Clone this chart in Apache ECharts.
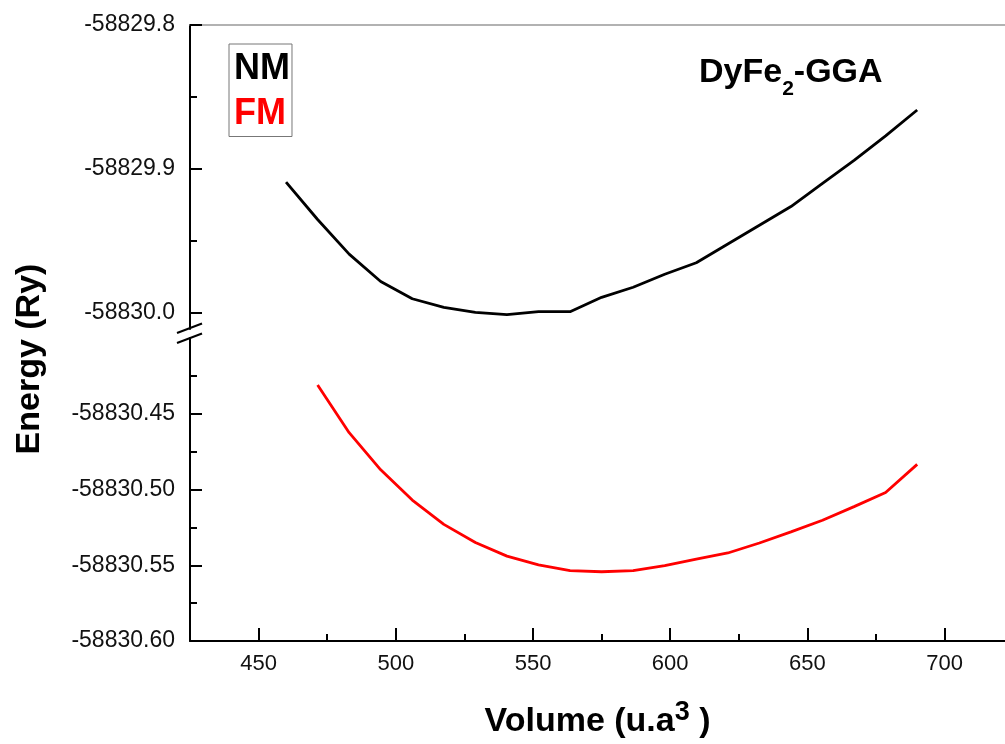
<!DOCTYPE html>
<html><head><meta charset="utf-8">
<script src="https://cdn.jsdelivr.net/npm/echarts@6/dist/echarts.min.js"></script>
<style>html,body{margin:0;padding:0;background:#fff}#c{width:1005px;height:744px}</style>
</head><body><div id="c"></div>
<script>
// ---- data ----
const volumesNM = [460, 471.5, 483, 494.5, 506, 517.5, 529, 540.5, 552, 563.5, 575, 586.5, 598, 609.5, 621, 632.5, 644, 655.5, 667, 678.5, 690];
const energyNM = [-58829.909, -58829.935, -58829.959, -58829.978, -58829.990, -58829.996, -58829.9995, -58830.001, -58829.999, -58829.999, -58829.989, -58829.982, -58829.973, -58829.965, -58829.952, -58829.939, -58829.926, -58829.910, -58829.894, -58829.877, -58829.859];
const volumesFM = [471.5, 483, 494.5, 506, 517.5, 529, 540.5, 552, 563.5, 575, 586.5, 598, 609.5, 621, 632.5, 644, 655.5, 667, 678.5, 690];
const energyFM = [-58830.431, -58830.4625, -58830.487, -58830.507, -58830.523, -58830.535, -58830.544, -58830.5497, -58830.5536, -58830.5543, -58830.5536, -58830.5503, -58830.546, -58830.5419, -58830.5353, -58830.528, -58830.5203, -58830.5113, -58830.502, -58830.4834];
const seriesNames = ['NM', 'FM'];
const xTickLabels = [450, 500, 550, 600, 650, 700];
const xMinorTicks = [475, 525, 575, 625, 675];
const yTopTickLabels = [-58830.0, -58829.9, -58829.8];
const yTopMinorTicks = [-58829.95, -58829.85];
const yBottomTickLabels = [-58830.60, -58830.55, -58830.50, -58830.45];
const yBottomMinorTicks = [-58830.575, -58830.525, -58830.475, -58830.425];
const xRange = [425, 722];
const yTopRange = [-58830.011, -58829.8];
const yBottomRange = [-58830.60, -58830.40];

// ---- chart ----
const FONT = 'Liberation Sans, Arial, Helvetica, sans-serif';
const chart = echarts.init(document.getElementById('c'), null, {renderer: 'canvas'});
const axisLine = {show: true, lineStyle: {color: '#000', width: 2}};
const labelStyle = {color: '#111', fontFamily: FONT, fontSize: 23};

function pairs(xs, ys) { return xs.map((x, i) => [x, ys[i]]); }

const option = {
  animation: false,
  backgroundColor: '#fff',
  title: {
    text: '{a|DyFe}{s|2}{a|-GGA}',
    left: 694, top: 51, padding: 5,
    textStyle: {
      rich: {
        a: {fontFamily: FONT, fontWeight: 'bold', fontSize: 34, color: '#000', lineHeight: 34, verticalAlign: 'top'},
        s: {fontFamily: FONT, fontWeight: 'bold', fontSize: 21, color: '#000', lineHeight: 21, verticalAlign: 'top', padding: [23, 0, 0, 0]}
      }
    }
  },
  legend: {
    orient: 'vertical', left: 229, top: 44,
    padding: [7, 2, 4, 0],
    itemWidth: 0, itemHeight: 36, itemGap: 9.5,
    borderColor: '#777', borderWidth: 1,
    icon: 'none',
    selectedMode: false,
    textStyle: {fontFamily: FONT, fontWeight: 'bold', fontSize: 36},
    data: [
      {name: seriesNames[0], textStyle: {color: '#000', fontFamily: FONT, fontWeight: 'bold', fontSize: 36}},
      {name: seriesNames[1], textStyle: {color: '#ff0000', fontFamily: FONT, fontWeight: 'bold', fontSize: 36}}
    ]
  },
  grid: [
    {left: 190, right: 0, top: 25, height: 304},
    {left: 190, right: 0, top: 338, height: 303}
  ],
  xAxis: [
    {gridIndex: 0, type: 'value', position: 'top', min: xRange[0], max: xRange[1],
      axisLine: {show: true, lineStyle: {color: '#999', width: 1.5}},
      axisTick: {show: false}, axisLabel: {show: false}, splitLine: {show: false}},
    {gridIndex: 1, type: 'value', position: 'bottom', min: xRange[0], max: xRange[1],
      axisLine: axisLine,
      axisTick: {show: true, inside: true, length: 13, lineStyle: {color: '#000', width: 2}, customValues: xTickLabels},
      axisLabel: Object.assign({show: true, margin: 12, customValues: xTickLabels}, labelStyle, {fontSize: 22}),
      splitLine: {show: false},
      name: '{m|Volume (u.a}{p|3}{m| )}',
      nameLocation: 'middle', nameGap: 58,
      nameTextStyle: {
        rich: {
          m: {fontFamily: FONT, fontWeight: 'bold', fontSize: 34, color: '#000', lineHeight: 34, verticalAlign: 'top', padding: [6, 0, 0, 0]},
          p: {fontFamily: FONT, fontWeight: 'bold', fontSize: 27, color: '#000', lineHeight: 27, verticalAlign: 'top'}
        }
      }},
    {gridIndex: 1, type: 'value', position: 'bottom', min: xRange[0], max: xRange[1],
      axisLine: {show: false},
      axisTick: {show: true, inside: true, length: 7, lineStyle: {color: '#000', width: 2}, customValues: xMinorTicks},
      axisLabel: {show: false}, splitLine: {show: false}}
  ],
  yAxis: [
    {gridIndex: 0, type: 'value', position: 'left', min: yTopRange[0], max: yTopRange[1], scale: true,
      axisLine: axisLine,
      axisTick: {show: true, inside: true, length: 12, lineStyle: {color: '#000', width: 2}, customValues: yTopTickLabels},
      axisLabel: Object.assign({show: true, margin: 15, customValues: yTopTickLabels, formatter: v => Number(v).toFixed(1)}, labelStyle),
      splitLine: {show: false}},
    {gridIndex: 0, type: 'value', position: 'left', min: yTopRange[0], max: yTopRange[1], scale: true,
      axisLine: {show: false},
      axisTick: {show: true, inside: true, length: 7, lineStyle: {color: '#000', width: 2}, customValues: yTopMinorTicks},
      axisLabel: {show: false}, splitLine: {show: false}},
    {gridIndex: 1, type: 'value', position: 'left', min: yBottomRange[0], max: yBottomRange[1], scale: true,
      axisLine: axisLine,
      axisTick: {show: true, inside: true, length: 12, lineStyle: {color: '#000', width: 2}, customValues: yBottomTickLabels},
      axisLabel: Object.assign({show: true, margin: 15, customValues: yBottomTickLabels, formatter: v => Number(v).toFixed(2)}, labelStyle),
      splitLine: {show: false}},
    {gridIndex: 1, type: 'value', position: 'left', min: yBottomRange[0], max: yBottomRange[1], scale: true,
      axisLine: {show: false},
      axisTick: {show: true, inside: true, length: 7, lineStyle: {color: '#000', width: 2}, customValues: yBottomMinorTicks},
      axisLabel: {show: false}, splitLine: {show: false}}
  ],
  series: [
    {name: seriesNames[0], type: 'line', xAxisIndex: 0, yAxisIndex: 0, data: pairs(volumesNM, energyNM),
      showSymbol: false, symbol: 'none', lineStyle: {color: '#000', width: 2.8}, itemStyle: {color: '#000'}},
    {name: seriesNames[1], type: 'line', xAxisIndex: 1, yAxisIndex: 2, data: pairs(volumesFM, energyFM),
      showSymbol: false, symbol: 'none', lineStyle: {color: '#ff0000', width: 2.8}, itemStyle: {color: '#ff0000'}}
  ],
  graphic: [
    {type: 'text', x: 30, y: 359, rotation: Math.PI / 2,
      style: {text: 'Energy (Ry)', fontFamily: FONT, fontWeight: 'bold', fontSize: 34, fill: '#000', align: 'center', verticalAlign: 'middle'}},
    {type: 'line', shape: {x1: 177, y1: 333, x2: 202, y2: 323.5}, style: {stroke: '#000', lineWidth: 2}},
    {type: 'line', shape: {x1: 177, y1: 343, x2: 202, y2: 333.5}, style: {stroke: '#000', lineWidth: 2}}
  ]
};
chart.setOption(option);
</script>
</body></html>
